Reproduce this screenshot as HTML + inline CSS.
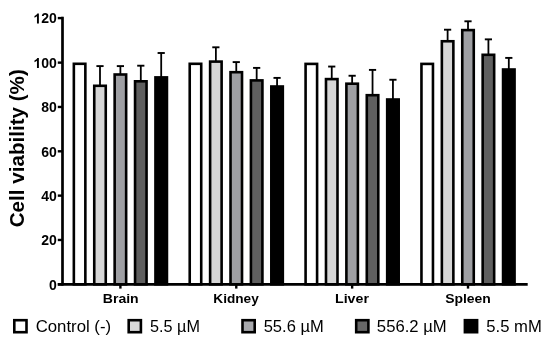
<!DOCTYPE html><html><head><meta charset="utf-8"><style>html,body{margin:0;padding:0;background:#fff;width:550px;height:345px;overflow:hidden}svg{display:block;will-change:transform;filter:blur(0.3px)}text{font-family:"Liberation Sans",sans-serif;fill:#000}</style></head><body>
<svg width="550" height="345" viewBox="0 0 550 345">
<rect x="73.85" y="63.80" width="11.50" height="220.50" fill="#ffffff" stroke="#000" stroke-width="2.6"/>
<line x1="100.00" y1="85.50" x2="100.00" y2="66.10" stroke="#000" stroke-width="1.8"/>
<line x1="96.40" y1="66.10" x2="103.60" y2="66.10" stroke="#000" stroke-width="1.9"/>
<rect x="94.25" y="85.80" width="11.50" height="198.50" fill="#d6d6d6" stroke="#000" stroke-width="2.6"/>
<line x1="120.40" y1="74.20" x2="120.40" y2="66.10" stroke="#000" stroke-width="1.8"/>
<line x1="116.80" y1="66.10" x2="124.00" y2="66.10" stroke="#000" stroke-width="1.9"/>
<rect x="114.65" y="74.50" width="11.50" height="209.80" fill="#9e9fa3" stroke="#000" stroke-width="2.6"/>
<line x1="140.80" y1="81.00" x2="140.80" y2="65.70" stroke="#000" stroke-width="1.8"/>
<line x1="137.20" y1="65.70" x2="144.40" y2="65.70" stroke="#000" stroke-width="1.9"/>
<rect x="135.05" y="81.30" width="11.50" height="203.00" fill="#5f5f5f" stroke="#000" stroke-width="2.6"/>
<line x1="161.20" y1="77.10" x2="161.20" y2="53.00" stroke="#000" stroke-width="1.8"/>
<line x1="157.60" y1="53.00" x2="164.80" y2="53.00" stroke="#000" stroke-width="1.9"/>
<rect x="155.45" y="77.40" width="11.50" height="206.90" fill="#000000" stroke="#000" stroke-width="2.6"/>
<rect x="189.72" y="63.80" width="11.50" height="220.50" fill="#ffffff" stroke="#000" stroke-width="2.6"/>
<line x1="215.87" y1="61.30" x2="215.87" y2="47.30" stroke="#000" stroke-width="1.8"/>
<line x1="212.27" y1="47.30" x2="219.47" y2="47.30" stroke="#000" stroke-width="1.9"/>
<rect x="210.12" y="61.60" width="11.50" height="222.70" fill="#d6d6d6" stroke="#000" stroke-width="2.6"/>
<line x1="236.27" y1="71.90" x2="236.27" y2="62.10" stroke="#000" stroke-width="1.8"/>
<line x1="232.67" y1="62.10" x2="239.87" y2="62.10" stroke="#000" stroke-width="1.9"/>
<rect x="230.52" y="72.20" width="11.50" height="212.10" fill="#9e9fa3" stroke="#000" stroke-width="2.6"/>
<line x1="256.67" y1="80.10" x2="256.67" y2="67.90" stroke="#000" stroke-width="1.8"/>
<line x1="253.07" y1="67.90" x2="260.27" y2="67.90" stroke="#000" stroke-width="1.9"/>
<rect x="250.92" y="80.40" width="11.50" height="203.90" fill="#5f5f5f" stroke="#000" stroke-width="2.6"/>
<line x1="277.07" y1="86.20" x2="277.07" y2="77.90" stroke="#000" stroke-width="1.8"/>
<line x1="273.47" y1="77.90" x2="280.67" y2="77.90" stroke="#000" stroke-width="1.9"/>
<rect x="271.32" y="86.50" width="11.50" height="197.80" fill="#000000" stroke="#000" stroke-width="2.6"/>
<rect x="305.59" y="63.90" width="11.50" height="220.40" fill="#ffffff" stroke="#000" stroke-width="2.6"/>
<line x1="331.74" y1="78.80" x2="331.74" y2="66.55" stroke="#000" stroke-width="1.8"/>
<line x1="328.14" y1="66.55" x2="335.34" y2="66.55" stroke="#000" stroke-width="1.9"/>
<rect x="325.99" y="79.10" width="11.50" height="205.20" fill="#d6d6d6" stroke="#000" stroke-width="2.6"/>
<line x1="352.14" y1="83.40" x2="352.14" y2="75.75" stroke="#000" stroke-width="1.8"/>
<line x1="348.54" y1="75.75" x2="355.74" y2="75.75" stroke="#000" stroke-width="1.9"/>
<rect x="346.39" y="83.70" width="11.50" height="200.60" fill="#9e9fa3" stroke="#000" stroke-width="2.6"/>
<line x1="372.54" y1="94.90" x2="372.54" y2="69.90" stroke="#000" stroke-width="1.8"/>
<line x1="368.94" y1="69.90" x2="376.14" y2="69.90" stroke="#000" stroke-width="1.9"/>
<rect x="366.79" y="95.20" width="11.50" height="189.10" fill="#5f5f5f" stroke="#000" stroke-width="2.6"/>
<line x1="392.94" y1="99.20" x2="392.94" y2="79.75" stroke="#000" stroke-width="1.8"/>
<line x1="389.34" y1="79.75" x2="396.54" y2="79.75" stroke="#000" stroke-width="1.9"/>
<rect x="387.19" y="99.50" width="11.50" height="184.80" fill="#000000" stroke="#000" stroke-width="2.6"/>
<rect x="421.46" y="63.90" width="11.50" height="220.40" fill="#ffffff" stroke="#000" stroke-width="2.6"/>
<line x1="447.61" y1="40.95" x2="447.61" y2="29.70" stroke="#000" stroke-width="1.8"/>
<line x1="444.01" y1="29.70" x2="451.21" y2="29.70" stroke="#000" stroke-width="1.9"/>
<rect x="441.86" y="41.25" width="11.50" height="243.05" fill="#d6d6d6" stroke="#000" stroke-width="2.6"/>
<line x1="468.01" y1="29.80" x2="468.01" y2="21.30" stroke="#000" stroke-width="1.8"/>
<line x1="464.41" y1="21.30" x2="471.61" y2="21.30" stroke="#000" stroke-width="1.9"/>
<rect x="462.26" y="30.10" width="11.50" height="254.20" fill="#9e9fa3" stroke="#000" stroke-width="2.6"/>
<line x1="488.41" y1="54.50" x2="488.41" y2="39.35" stroke="#000" stroke-width="1.8"/>
<line x1="484.81" y1="39.35" x2="492.01" y2="39.35" stroke="#000" stroke-width="1.9"/>
<rect x="482.66" y="54.80" width="11.50" height="229.50" fill="#5f5f5f" stroke="#000" stroke-width="2.6"/>
<line x1="508.81" y1="69.20" x2="508.81" y2="57.90" stroke="#000" stroke-width="1.8"/>
<line x1="505.21" y1="57.90" x2="512.41" y2="57.90" stroke="#000" stroke-width="1.9"/>
<rect x="503.06" y="69.50" width="11.50" height="214.80" fill="#000000" stroke="#000" stroke-width="2.6"/>
<line x1="62.5" y1="16.85" x2="62.5" y2="285.6" stroke="#000" stroke-width="2.7"/>
<line x1="57.8" y1="284.30" x2="527.7" y2="284.30" stroke="#000" stroke-width="2.7"/>
<line x1="57.8" y1="284.30" x2="63" y2="284.30" stroke="#000" stroke-width="2.4"/>
<text transform="translate(49.06,289.63) scale(1.0000,1)" font-size="14" font-weight="bold">0</text>
<line x1="57.8" y1="239.97" x2="63" y2="239.97" stroke="#000" stroke-width="2.4"/>
<text transform="translate(41.22,245.30) scale(1.0000,1)" font-size="14" font-weight="bold">20</text>
<line x1="57.8" y1="195.63" x2="63" y2="195.63" stroke="#000" stroke-width="2.4"/>
<text transform="translate(41.22,200.96) scale(1.0000,1)" font-size="14" font-weight="bold">40</text>
<line x1="57.8" y1="151.30" x2="63" y2="151.30" stroke="#000" stroke-width="2.4"/>
<text transform="translate(41.22,156.63) scale(1.0000,1)" font-size="14" font-weight="bold">60</text>
<line x1="57.8" y1="106.96" x2="63" y2="106.96" stroke="#000" stroke-width="2.4"/>
<text transform="translate(41.22,112.29) scale(1.0000,1)" font-size="14" font-weight="bold">80</text>
<line x1="57.8" y1="62.63" x2="63" y2="62.63" stroke="#000" stroke-width="2.4"/>
<path transform="translate(33.38,67.96) scale(0.006836,-0.006836)" d="M806 0H525V1059Q371 915 162 846V1101Q272 1137 401 1237Q530 1338 578 1466H806Z"/>
<text x="41.17" y="67.96" font-size="14" font-weight="bold">00</text>
<line x1="57.8" y1="18.10" x2="63" y2="18.10" stroke="#000" stroke-width="2.4"/>
<path transform="translate(33.38,23.43) scale(0.006836,-0.006836)" d="M806 0H525V1059Q371 915 162 846V1101Q272 1137 401 1237Q530 1338 578 1466H806Z"/>
<text x="41.17" y="23.43" font-size="14" font-weight="bold">20</text>
<line x1="120.40" y1="284.30" x2="120.40" y2="288.6" stroke="#000" stroke-width="2.4"/>
<line x1="236.27" y1="284.30" x2="236.27" y2="288.6" stroke="#000" stroke-width="2.4"/>
<line x1="352.14" y1="284.30" x2="352.14" y2="288.6" stroke="#000" stroke-width="2.4"/>
<line x1="468.01" y1="284.30" x2="468.01" y2="288.6" stroke="#000" stroke-width="2.4"/>
<text transform="translate(102.82,303.00) scale(1.0891,1)" font-size="12.9" font-weight="bold">Brain</text>
<text transform="translate(213.30,303.00) scale(1.0570,1)" font-size="12.9" font-weight="bold">Kidney</text>
<text transform="translate(335.03,303.00) scale(1.0994,1)" font-size="12.9" font-weight="bold">Liver</text>
<text transform="translate(445.18,303.00) scale(1.0814,1)" font-size="12.9" font-weight="bold">Spleen</text>
<text transform="translate(24.0,226.5) rotate(-90) translate(-0.82,0) scale(1.0010,1)" font-size="20.6" font-weight="bold">Cell viability (%)</text>
<rect x="14.30" y="320.20" width="12.20" height="12.00" fill="#ffffff" stroke="#000" stroke-width="2.6"/>
<rect x="128.70" y="320.20" width="12.20" height="12.00" fill="#d8d8d8" stroke="#000" stroke-width="2.6"/>
<rect x="242.50" y="320.20" width="12.20" height="12.00" fill="#a8a9ad" stroke="#000" stroke-width="2.6"/>
<rect x="356.20" y="320.20" width="12.20" height="12.00" fill="#676767" stroke="#000" stroke-width="2.6"/>
<rect x="464.90" y="320.20" width="12.20" height="12.00" fill="#000000" stroke="#000" stroke-width="2.6"/>
<text transform="translate(35.66,331.80) scale(1.0493,1)" font-size="16" font-weight="normal">Control (-)</text>
<text transform="translate(150.10,331.80) scale(1.0125,1)" font-size="16" font-weight="normal">5.5 µM</text>
<text transform="translate(263.67,331.80) scale(1.0340,1)" font-size="16" font-weight="normal">55.6 µM</text>
<text transform="translate(376.86,331.80) scale(1.0430,1)" font-size="16" font-weight="normal">556.2 µM</text>
<text transform="translate(486.33,331.80) scale(1.0417,1)" font-size="16" font-weight="normal">5.5 mM</text>
</svg></body></html>
